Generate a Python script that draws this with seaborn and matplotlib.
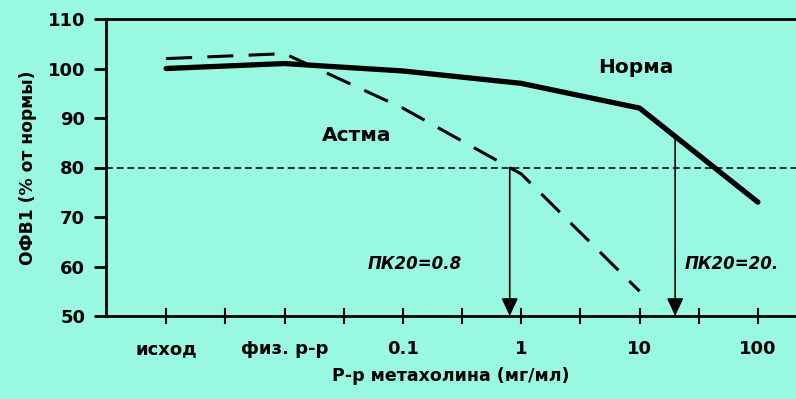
import numpy as np
import pandas as pd
import matplotlib
matplotlib.use("Agg")
import matplotlib.pyplot as plt
import seaborn as sns

# Dose steps along the x axis (log-spaced positions, one per decade)
dose_labels = ["исход", "физ. р-р", "0.1", "1", "10", "100"]
dose_pos = [0, 1, 2, 3, 4, 5]

# FEV1 (% of normal) for each group
norm_fev1 = [100, 101, 99.5, 97, 92, 73]
asthma_pos = [0, 1, 2, 3, 4]
asthma_fev1 = [102, 103, 92, 78.7, 55]

# Provocative concentration (mg/ml) causing a 20 % drop
pc20_values = [0.8, 20]
pc20_labels = ["ПК20=0.8", "ПК20=20."]
threshold = 80

bg = "#98F8E1"
sns.set_style("ticks")
plt.rcParams["font.family"] = ["DejaVu Sans"]
plt.rcParams["font.weight"] = "bold"
for k in ["text.color", "axes.labelcolor", "xtick.color", "ytick.color", "axes.edgecolor"]:
    plt.rcParams[k] = "black"

fig = plt.figure(figsize=(7.96, 3.99), dpi=100, facecolor=bg)
ax = fig.add_axes([106 / 796, 1 - 316 / 399, 1 - 106 / 796, (316 - 19) / 399])
ax.set_facecolor(bg)

df_norm = pd.DataFrame({"pos": dose_pos, "fev1": norm_fev1})
df_asthma = pd.DataFrame({"pos": asthma_pos, "fev1": asthma_fev1})

sns.lineplot(data=df_norm, x="pos", y="fev1", color="black", linewidth=3.8,
             solid_capstyle="round", solid_joinstyle="round", ax=ax)
sns.lineplot(data=df_asthma, x="pos", y="fev1", color="black", linewidth=2.2,
             dashes=False, ax=ax)
ax.lines[-1].set_dashes([8.5, 5])

# 80 % threshold
ax.axhline(threshold, color="black", linewidth=1.1, dashes=(4.5, 2.5), zorder=1)

# arrows down to the PC20 doses
curves = [(asthma_pos, asthma_fev1), (dose_pos, norm_fev1)]
for val, (cx, cy) in zip(pc20_values, curves):
    xp = 3 + np.log10(val)
    y0 = np.interp(xp, cx, cy)
    ax.annotate("", xy=(xp, 50), xytext=(xp, y0),
                arrowprops=dict(arrowstyle="-|>,head_length=0.9,head_width=0.42",
                                mutation_scale=12, color="black", lw=1.2,
                                shrinkA=0, shrinkB=0))

ax.text(2.10, 60.5, pc20_labels[0], ha="center", va="center", fontsize=12,
        fontstyle="italic", fontweight="bold")
ax.text(4.78, 60.5, pc20_labels[1], ha="center", va="center", fontsize=12,
        fontstyle="italic", fontweight="bold")
ax.text(3.97, 100.2, "Норма", ha="center", va="center", fontsize=14.5, fontweight="bold")
ax.text(1.61, 86.4, "Астма", ha="center", va="center", fontsize=14.5, fontweight="bold")

ax.set_xlim(-60 / 118, 5 + 38 / 118)
ax.set_ylim(50, 110)
ax.set_yticks(range(50, 111, 10))
ax.set_xticks(dose_pos)
ax.set_xticklabels(dose_labels)
ax.set_xticks(np.arange(0.5, 5, 1), minor=True)

for s in ["left", "bottom", "top"]:
    ax.spines[s].set_linewidth(2)
    ax.spines[s].set_color("black")
ax.spines["right"].set_visible(False)

ax.tick_params(axis="y", direction="out", length=9, width=2, labelsize=13, pad=6)
ax.tick_params(axis="x", which="both", direction="inout", length=11, width=1.5,
               labelsize=13, pad=12)
for t in ax.get_xticklabels() + ax.get_yticklabels():
    t.set_fontweight("bold")

ax.set_xlabel("Р-р метахолина (мг/мл)", fontsize=12.5, fontweight="bold", labelpad=6)
ax.set_ylabel("ОФВ1 (% от нормы)", fontsize=12.3, fontweight="bold", labelpad=8)

fig.savefig("out.png", dpi=100, facecolor=bg)
